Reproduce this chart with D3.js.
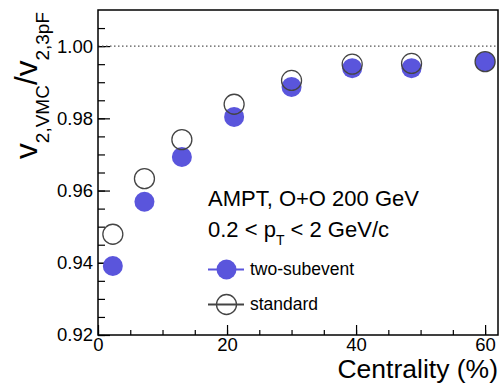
<!DOCTYPE html>
<html>
<head>
<meta charset="utf-8">
<script src="https://cdn.jsdelivr.net/npm/d3@7"></script>
<style>
  body { margin: 0; background: #fff; }
  text { font-family: "Liberation Sans", Arial, sans-serif; fill: #000; }
</style>
</head>
<body>
<script>
// data
const centrality = [2.3, 7.2, 13, 21.1, 30, 39.4, 48.6, 60];
const twoSubevent = [0.9391, 0.9569, 0.9693, 0.9804, 0.9887, 0.9939, 0.9939, 0.9957];
const standard = [0.9479, 0.9633, 0.9741, 0.9839, 0.9905, 0.9950, 0.9952, 0.9957];
const xMajorTicks = [0, 20, 40, 60];
const yMajorTicks = [0.92, 0.94, 0.96, 0.98, 1.00];
const legendLabels = ["two-subevent", "standard"];

const width = 503;
const height = 385;
const margin = {top: 10, right: 5, bottom: 50, left: 98};
const plotW = width - margin.left - margin.right;
const plotH = height - margin.top - margin.bottom;
const blue = "#5a55dc";
const grey = "#444";

const svg = d3.select("body").append("svg")
    .attr("width", width)
    .attr("height", height);

svg.append("rect").attr("width", width).attr("height", height).attr("fill", "#fff");

const g = svg.append("g")
    .attr("transform", `translate(${margin.left},${margin.top})`);

const x = d3.scaleLinear().domain([0, 62]).range([0, plotW]);
const y = d3.scaleLinear().domain([0.92, 1.01]).range([plotH, 0]);

// minor ticks
const xMinor = d3.range(0, 61, 5);
const yMinor = d3.range(0.92, 1.0075, 0.005);

g.append("g")
    .attr("transform", `translate(0,${plotH})`)
    .call(d3.axisBottom(x).tickValues(xMinor).tickSize(-5).tickFormat(""))
    .call(a => a.select(".domain").remove());
g.append("g")
    .call(d3.axisLeft(y).tickValues(yMinor).tickSize(-7).tickFormat(""))
    .call(a => a.select(".domain").remove());

// major ticks + labels
const xAx = g.append("g")
    .attr("transform", `translate(0,${plotH})`)
    .call(d3.axisBottom(x).tickValues(xMajorTicks).tickSize(-10).tickPadding(3).tickFormat(d3.format("d")));
xAx.select(".domain").remove();
xAx.selectAll("text").attr("font-size", 18.5).attr("dy", "0.71em");

const yAx = g.append("g")
    .call(d3.axisLeft(y).tickValues(yMajorTicks).tickSize(-12).tickPadding(5).tickFormat(d3.format(".2f")));
yAx.select(".domain").remove();
yAx.selectAll("text").attr("font-size", 18.5);

g.selectAll(".tick line").attr("stroke", "#000").attr("stroke-width", 1.2);

// reference line at 1
g.append("line")
    .attr("x1", 0).attr("x2", plotW)
    .attr("y1", y(1)).attr("y2", y(1))
    .attr("stroke", "#555")
    .attr("stroke-width", 1.2)
    .attr("stroke-dasharray", "1.5,2.5");

// frame
g.append("rect")
    .attr("width", plotW).attr("height", plotH)
    .attr("fill", "none").attr("stroke", "#000").attr("stroke-width", 1.5);

// points
g.selectAll(".two").data(centrality).enter().append("circle")
    .attr("cx", d => x(d))
    .attr("cy", (d, i) => y(twoSubevent[i]))
    .attr("r", 10)
    .attr("fill", blue);

g.selectAll(".std").data(centrality).enter().append("circle")
    .attr("cx", d => x(d))
    .attr("cy", (d, i) => y(standard[i]))
    .attr("r", 10)
    .attr("fill", "none")
    .attr("stroke", grey)
    .attr("stroke-width", 1.3);

// captions
svg.append("text")
    .attr("x", 208).attr("y", 206)
    .attr("font-size", 22)
    .text("AMPT, O+O 200 GeV");

const pt = svg.append("text")
    .attr("x", 208).attr("y", 237)
    .attr("font-size", 22);
pt.append("tspan").text("0.2 < p");
pt.append("tspan").attr("font-size", 14).attr("dy", 8).text("T");
pt.append("tspan").attr("dy", -8).text(" < 2 GeV/c");

// legend
const legend = svg.append("g");
const legY = [269.5, 304.5];
legendLabels.forEach((lab, i) => {
    const col = i === 0 ? blue : grey;
    legend.append("line")
        .attr("x1", 208).attr("x2", 244)
        .attr("y1", legY[i]).attr("y2", legY[i])
        .attr("stroke", col).attr("stroke-width", 2.2);
    legend.append("circle")
        .attr("cx", 226.5).attr("cy", legY[i]).attr("r", 10)
        .attr("fill", i === 0 ? blue : "none")
        .attr("stroke", i === 0 ? "none" : grey)
        .attr("stroke-width", 1.3);
    legend.append("text")
        .attr("x", 250).attr("y", legY[i] + 5.5)
        .attr("font-size", 17.5)
        .text(lab);
});

// axis titles
svg.append("text")
    .attr("x", 498).attr("y", 378)
    .attr("text-anchor", "end")
    .attr("font-size", 26.5)
    .text("Centrality (%)");

const yt = svg.append("text")
    .attr("transform", "translate(37,12) rotate(-90)")
    .attr("text-anchor", "end")
    .attr("font-size", 31.5);
yt.append("tspan").text("v");
yt.append("tspan").attr("font-size", 19).attr("dy", 12).text("2,VMC");
yt.append("tspan").attr("dy", -12).text("/v");
yt.append("tspan").attr("font-size", 19).attr("dy", 12).text("2,3pF");
</script>
</body>
</html>
